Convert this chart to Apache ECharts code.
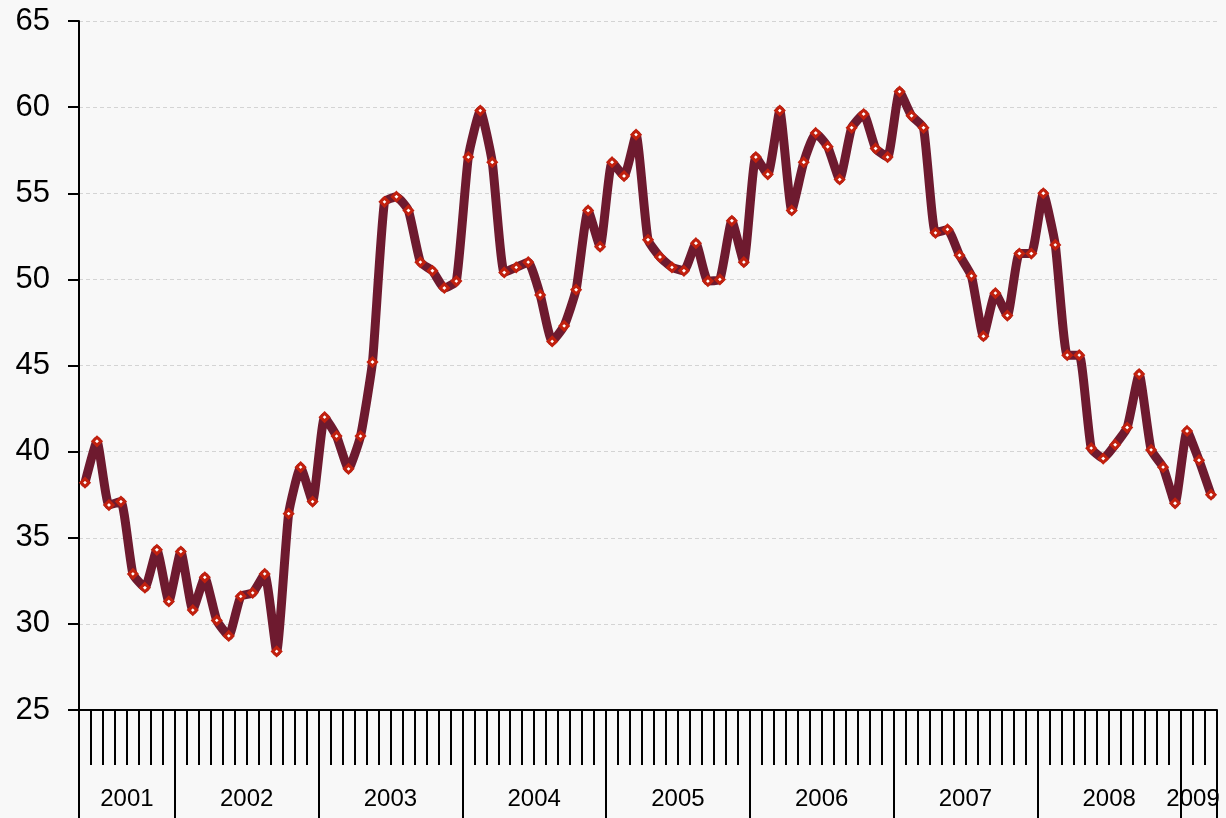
<!DOCTYPE html>
<html>
<head>
<meta charset="utf-8">
<script src="https://cdn.jsdelivr.net/npm/echarts@6/dist/echarts.min.js"></script>
<style>
html,body{margin:0;padding:0;background:#f8f8f8;}
#chart{width:1226px;height:818px;}
</style>
</head>
<body>
<div id="chart"></div>
<script>
// Monthly values, May 2001 .. Mar 2009
const values2001 = [38.2, 40.6, 36.9, 37.1, 32.9, 32.1, 34.3, 31.3];
const values2002 = [34.2, 30.8, 32.7, 30.2, 29.3, 31.6, 31.8, 32.9, 28.4, 36.4, 39.1, 37.1];
const values2003 = [42.0, 40.9, 39.0, 40.9, 45.2, 54.5, 54.8, 54.0, 51.0, 50.5, 49.5, 49.9];
const values2004 = [57.1, 59.8, 56.8, 50.4, 50.7, 51.0, 49.1, 46.4, 47.3, 49.4, 54.0, 51.9];
const values2005 = [56.8, 56.0, 58.4, 52.3, 51.3, 50.7, 50.5, 52.1, 49.9, 50.0, 53.4, 51.0];
const values2006 = [57.1, 56.1, 59.8, 54.0, 56.8, 58.5, 57.7, 55.8, 58.8, 59.6, 57.6, 57.1];
const values2007 = [60.9, 59.5, 58.8, 52.7, 52.9, 51.4, 50.2, 46.7, 49.2, 47.9, 51.5, 51.5];
const values2008 = [55.0, 52.0, 45.6, 45.6, 40.2, 39.6, 40.4, 41.4, 44.5, 40.1, 39.1, 37.0];
const values2009 = [41.2, 39.5, 37.5];

const yearLabels = ['2001','2002','2003','2004','2005','2006','2007','2008','2009'];
const yearBoundaries = [0, 8, 20, 32, 44, 56, 68, 80, 92, 95];
const yearLabelPos = [4, 14, 26, 38, 50, 62, 74, 86, 93];
const yTicks = [25, 30, 35, 40, 45, 50, 55, 60, 65];

const allValues = [].concat(values2001, values2002, values2003, values2004, values2005,
  values2006, values2007, values2008, values2009);
const seriesData = allValues.map((v, i) => [i + 0.5, v]);
const nMonths = allValues.length;

const chart = echarts.init(document.getElementById('chart'), null, {renderer: 'canvas'});
chart.setOption({
  backgroundColor: '#f8f8f8',
  animation: false,
  grid: {left: 79, right: 9, top: 21, bottom: 108, containLabel: false},
  xAxis: [
    {
      type: 'value', min: 0, max: nMonths, interval: 1,
      position: 'bottom',
      axisLine: {show: true, onZero: false, lineStyle: {color: '#000', width: 2}},
      axisTick: {show: true, length: 55, lineStyle: {color: '#000', width: 2}},
      axisLabel: {show: false},
      splitLine: {show: false}
    },
    {
      type: 'value', min: 0, max: nMonths,
      position: 'bottom',
      axisLine: {show: false, onZero: false},
      axisTick: {show: true, length: 112, customValues: yearBoundaries, lineStyle: {color: '#000', width: 2}},
      axisLabel: {
        show: true, customValues: yearLabelPos, margin: 77,
        fontSize: 24, color: '#000', fontFamily: 'Liberation Sans, Arial, sans-serif',
        formatter: function (v) { const k = yearLabelPos.indexOf(v); return k >= 0 ? yearLabels[k] : ''; }
      },
      splitLine: {show: false}
    }
  ],
  yAxis: {
    type: 'value', min: yTicks[0], max: yTicks[yTicks.length - 1], interval: 5,
    axisLine: {show: true, lineStyle: {color: '#000', width: 2}},
    axisTick: {show: true, length: 11, lineStyle: {color: '#000', width: 2}},
    axisLabel: {fontSize: 31, color: '#000', margin: 29, fontFamily: 'Liberation Sans, Arial, sans-serif'},
    splitLine: {show: true, lineStyle: {color: '#d4d4d4', width: 1, type: [4, 3]}}
  },
  series: [{
    type: 'line',
    xAxisIndex: 0,
    data: seriesData,
    smooth: 0.15,
    symbol: 'diamond',
    symbolSize: 8,
    showAllSymbol: true,
    lineStyle: {color: '#6e1a2f', width: 9, join: 'round', cap: 'round'},
    itemStyle: {color: '#ffffff', borderColor: '#c2200e', borderWidth: 3}
  }]
});
</script>
</body>
</html>
